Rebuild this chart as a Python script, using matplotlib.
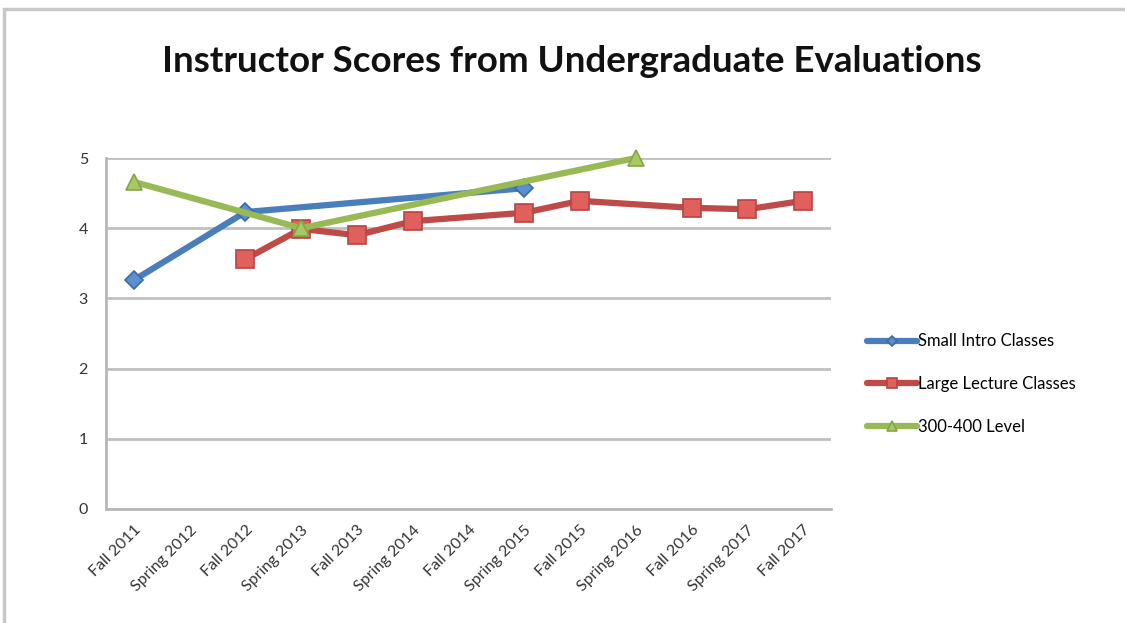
import numpy as np
import matplotlib
matplotlib.use("Agg")
import matplotlib.pyplot as plt
from matplotlib.patches import Rectangle

categories = ["Fall 2011", "Spring 2012", "Fall 2012", "Spring 2013", "Fall 2013",
              "Spring 2014", "Fall 2014", "Spring 2015", "Fall 2015", "Spring 2016",
              "Fall 2016", "Spring 2017", "Fall 2017"]
nan = np.nan
small_intro = [3.26, nan, 4.23, nan, nan, nan, nan, 4.57, nan, nan, nan, nan, nan]
large_lecture = [nan, nan, 3.56, 3.99, 3.90, 4.10, nan, 4.22, 4.39, nan, 4.29, 4.27, 4.39]
level_300_400 = [4.66, nan, nan, 4.00, nan, nan, nan, nan, nan, 5.00, nan, nan, nan]
series_names = ["Small Intro Classes", "Large Lecture Classes", "300-400 Level"]
y_ticks = [0, 1, 2, 3, 4, 5]

plt.rcParams['font.family'] = ['Lato', 'DejaVu Sans']

fig = plt.figure(figsize=(11.25, 6.23), dpi=100)
fig.patch.set_facecolor("white")
fig.add_artist(Rectangle((4 / 1125, -0.05), 1.2, 1.05 - 9 / 623, transform=fig.transFigure,
                         fill=False, edgecolor="#c8c8c8", linewidth=2.5))

ax = fig.add_axes([106 / 1125, 1 - 509 / 623, (831 - 106) / 1125, (509 - 158) / 623])

x = np.arange(len(categories))
styles = [
    dict(color="#4a7ebb", marker="D", markersize=9, mfc="#5b8fd0", mec="#3d6aa3"),
    dict(color="#be4b48", marker="s", markersize=13, mfc="#e0605c", mec="#b84442"),
    dict(color="#98b954", marker="^", markersize=12, mfc="#a6c964", mec="#86a548"),
]
handles = []
for vals, name, st in zip([small_intro, large_lecture, level_300_400], series_names, styles):
    v = np.array(vals, dtype=float)
    m = ~np.isnan(v)
    h, = ax.plot(x[m], v[m], linewidth=4.5, solid_capstyle="round", label=name,
                 marker=st["marker"], markersize=st["markersize"], color=st["color"],
                 markerfacecolor=st["mfc"], markeredgecolor=st["mec"], markeredgewidth=1.2,
                 zorder=3, clip_on=False)
    handles.append(h)

ax.set_xlim(-0.5, len(categories) - 0.5)
ax.set_ylim(0, 5)
ax.set_yticks(y_ticks)
ax.set_yticklabels([str(t) for t in y_ticks], fontsize=11.5, color="#333333")
ax.set_xticks(x)
ax.set_xticklabels(categories, rotation=45, ha="right", rotation_mode="anchor",
                   fontsize=11.5, color="#333333")
ax.tick_params(axis="x", length=0, pad=10)
ax.tick_params(axis="y", length=0, pad=13)
ax.grid(axis="y", color="#c0c0c0", linewidth=2)
ax.set_axisbelow(True)
for s in ["top", "right"]:
    ax.spines[s].set_visible(False)
for s in ["left", "bottom"]:
    ax.spines[s].set_color("#b8b8b8")
    ax.spines[s].set_linewidth(2)

fig.text(572 / 1125, 1 - 61 / 623, "Instructor Scores from Undergraduate Evaluations",
         ha="center", va="center", fontsize=26.5, fontweight="bold", color="#111111")

leg = fig.legend(handles=handles, labels=series_names, loc="center left",
                 bbox_to_anchor=(852 / 1125, 1 - 384 / 623), frameon=False,
                 fontsize=12, handlelength=3.0, handletextpad=0.05, labelspacing=1.6,
                 markerscale=0.6)

fig.savefig("out.png", dpi=100, facecolor="white")
